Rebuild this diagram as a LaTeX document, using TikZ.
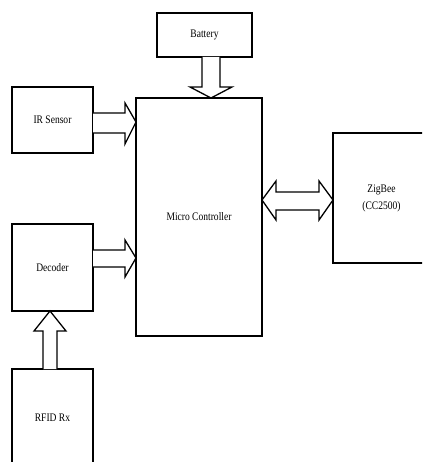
\documentclass[tikz,border=0pt]{standalone}
\usepackage{fontspec}
\setmainfont{Liberation Serif}[FakeStretch=0.83]
\begin{document}
\begin{tikzpicture}[x=1pt,y=-1pt,
  box/.style={draw,line width=1.3pt,outer sep=0pt,inner sep=0pt,align=center,
    font=\fontsize{11.5}{17}\selectfont},
  blk/.style={draw,line width=1.3pt,line join=miter,fill=white}]
\useasboundingbox (0,0) rectangle (422,462);
\begin{scope}
\clip (0,0) rectangle (422,462);
\node[box,minimum width=95pt,minimum height=44pt] (bat) at (204.5,35) {Battery};
\node[box,minimum width=81pt,minimum height=66pt] (ir) at (52.5,120) {IR Sensor};
\node[box,minimum width=126pt,minimum height=238pt] (mc) at (199,217) {Micro Controller};
\node[box,minimum width=97pt,minimum height=130pt] (zig) at (381.5,198) {ZigBee\\(CC2500)};
\node[box,minimum width=81pt,minimum height=87pt] (dec) at (52.5,267.5) {Decoder};
\node[box,minimum width=81pt,minimum height=98pt] (rfid) at (52.5,418) {RFID Rx};
% Battery -> MC
\draw[blk] (202,0 |- bat.south) -- (202,87) -- (190,87) -- (211,0 |- mc.north)
  -- (232,87) -- (220,87) -- (220,0 |- bat.south);
% IR -> MC
\draw[blk] (ir.east |- 0,113) -- (125,113) -- (125,103) -- (mc.west |- 0,122)
  -- (125,144) -- (125,133) -- (ir.east |- 0,133);
% Decoder -> MC
\draw[blk] (dec.east |- 0,250) -- (125,250) -- (125,240) -- (mc.west |- 0,258)
  -- (125,277) -- (125,267) -- (dec.east |- 0,267);
% MC <-> ZigBee
\draw[blk] (mc.east |- 0,200) -- (276,181) -- (276,192) -- (319,192) -- (319,181)
  -- (zig.west |- 0,200) -- (319,220) -- (319,210) -- (276,210) -- (276,220) -- cycle;
% RFID -> Decoder
\draw[blk] (43,0 |- rfid.north) -- (43,331) -- (34,331) -- (50,0 |- dec.south)
  -- (66,331) -- (57,331) -- (57,0 |- rfid.north);
\end{scope}
\end{tikzpicture}
\end{document}
